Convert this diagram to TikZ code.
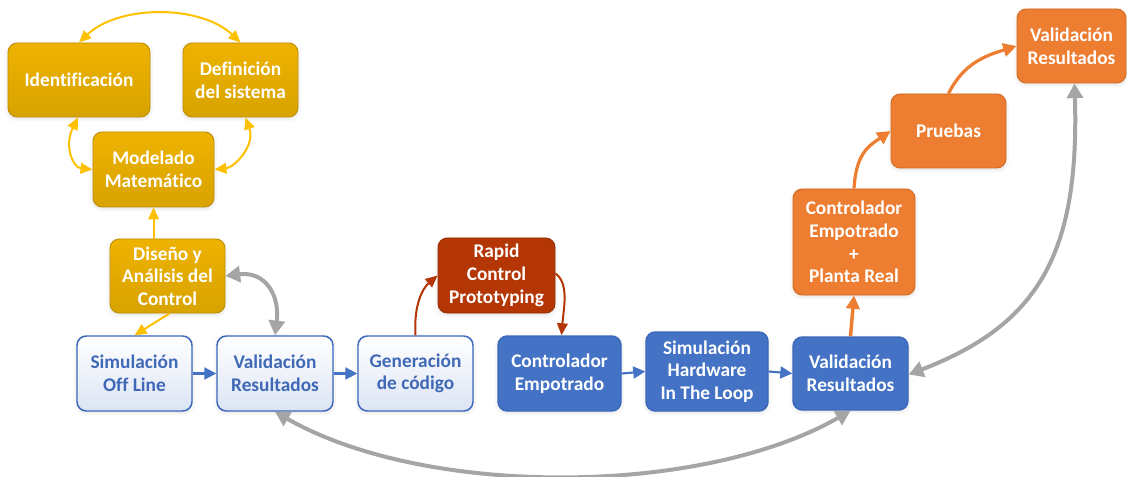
\documentclass[tikz,border=0pt]{standalone}
\usepackage{fontspec}
\setmainfont{Carlito}[Ligatures=NoCommon]
\usetikzlibrary{arrows.meta,shadows.blur}

\definecolor{goldtop}{HTML}{EEB200}
\definecolor{goldbot}{HTML}{D8A300}
\definecolor{goldedge}{HTML}{BF9000}
\definecolor{goldline}{HTML}{FFC000}
\definecolor{accblue}{HTML}{4472C4}
\definecolor{blueedge}{HTML}{3A68BC}
\definecolor{paleblue}{HTML}{DCE4F4}
\definecolor{bluetext}{HTML}{3F69B6}
\definecolor{rustfill}{HTML}{B33604}
\definecolor{rustedge}{HTML}{9C3005}
\definecolor{accorange}{HTML}{ED7D31}
\definecolor{orangeedge}{HTML}{D46A22}
\definecolor{linkgray}{HTML}{A5A5A5}

\tikzset{
  box/.style={rounded corners=7pt, inner sep=0pt, align=center,
    font=\bfseries\fontsize{14.5}{17}\selectfont,
    blur shadow={shadow xshift=0pt, shadow yshift=-1.2pt, shadow blur radius=3pt, shadow opacity=14}},
  wh/.style 2 args={minimum width=#1*0.75pt, minimum height=#2*0.75pt},
  goldbox/.style={box, draw=goldedge, line width=0.7pt, top color=goldtop, bottom color=goldbot, text=white},
  palebox/.style={box, draw=blueedge, line width=1.1pt, top color=white, bottom color=paleblue, text=bluetext},
  bluebox/.style={box, draw=blueedge, line width=1.1pt, fill=accblue, text=white},
  rustbox/.style={box, draw=rustedge, line width=0.7pt, fill=rustfill, text=white},
  orangebox/.style={box, draw=orangeedge, line width=0.7pt, fill=accorange, text=white},
  goldarrow/.style={draw=goldline, line width=1.5pt, -{Triangle[length=9pt, width=8pt]}},
  goldboth/.style={goldarrow, {Triangle[length=9pt, width=8pt]}-{Triangle[length=9pt, width=8pt]}},
  bluearrow/.style={draw=accblue, line width=1.6pt, -{Triangle[length=9pt, width=9pt]}},
  rustarrow/.style={draw=rustfill, line width=1.5pt, -{Triangle[length=9pt, width=8pt]}},
  orangearrow/.style={draw=accorange, line width=2.6pt, -{Triangle[length=10pt, width=10pt]}},
  grayboth/.style={draw=linkgray, line width=3pt,
    {Triangle[length=11pt, width=12pt]}-{Triangle[length=11pt, width=12pt]}},
}

\begin{document}
\begin{tikzpicture}[x=0.75pt, y=-0.75pt]
\useasboundingbox (0,0) rectangle (1127,477);

% modelling cluster
\node[goldbox, wh={142}{74}] (ident) at (79,80) {Identificación};
\node[goldbox, wh={115}{74}] (defin) at (240.5,80) {Definición\\del sistema};
\node[goldbox, wh={121}{75}] (model) at (153.5,169.5) {Modelado\\Matemático};
\node[goldbox, wh={115}{74}] (diseno) at (167.5,276) {Diseño y\\Análisis del\\Control};

% simulation and code generation chain
\node[palebox, wh={115}{75}] (simoff) at (134.5,373.5) {Simulación\\Off Line};
\node[palebox, wh={116}{75}] (valid1) at (275,373.5) {Validación\\Resultados};
\node[palebox, wh={115}{75}] (gen) at (415.5,373.5) {Generación\\de código};
\node[rustbox, wh={117}{75}] (rapid) at (496.5,275.5) {Rapid\\Control\\Prototyping};

% embedded chain
\node[bluebox, wh={123}{75}] (ctrl) at (559.5,373.5) {Controlador\\Empotrado};
\node[bluebox, wh={122}{79}] (hil) at (707,371.5) {Simulación\\Hardware\\In The Loop};
\node[bluebox, wh={115}{73}] (valid2) at (850.5,373.5) {Validación\\Resultados};

% real plant chain
\node[orangebox, wh={122}{106}] (ctrlp) at (854,242) {Controlador\\Empotrado\\+\\Planta Real};
\node[orangebox, wh={115}{74}] (pruebas) at (948.5,131) {Pruebas};
\node[orangebox, wh={109}{74}] (valid3) at (1071.5,46) {Validación\\Resultados};

% gold connectors
\draw[goldboth] (ident.north) .. controls +(40,-38) and +(-40,-38) .. (defin.north);
\draw[goldboth] ([xshift=-1*0.75pt]ident.south) .. controls +(-14,28) and +(-20,-2) .. (model.west);
\draw[goldboth] ([xshift=5*0.75pt]defin.south) .. controls +(10,28) and +(20,-2) .. (model.east);
\draw[goldarrow] (model.south |- diseno.north) -- (model.south);
\draw[goldarrow] ([xshift=2*0.75pt]diseno.south) -- (simoff.north);

% blue connectors
\draw[bluearrow] (simoff.east) -- (valid1.west);
\draw[bluearrow] (valid1.east) -- (gen.west);
\draw[bluearrow] (ctrl.east) -- (hil.west);
\draw[bluearrow] (hil.east) -- (valid2.west);

% rapid prototyping loop
\draw[rustarrow] (gen.north) .. controls +(-2,-32) and +(-14,12) .. (rapid.west);
\draw[rustarrow] ([yshift=2*0.75pt]rapid.east) .. controls +(14,10) and +(2,-26) .. ([xshift=2*0.75pt]ctrl.north);

% orange chain
\draw[orangearrow] (valid2.north) -- (ctrlp.south);
\draw[orangearrow, line width=2.4pt] (ctrlp.north) .. controls +(2,-35) and +(-22,15) .. (pruebas.west);
\draw[orangearrow, line width=2.4pt] (pruebas.north) .. controls +(15,-30) and +(-32,10) .. (valid3.west);

% gray validation links
\draw[grayboth] (diseno.east) .. controls +(40,-5) and +(5,-40) .. (valid1.north);
\draw[grayboth] (valid1.south) .. controls +(150,86) and +(-150,86) .. (valid2.south);
\draw[grayboth] ([yshift=-1*0.75pt]valid2.east) .. controls +(130,-50) and +(5,170) .. ([xshift=3*0.75pt]valid3.south);
\end{tikzpicture}
\end{document}
